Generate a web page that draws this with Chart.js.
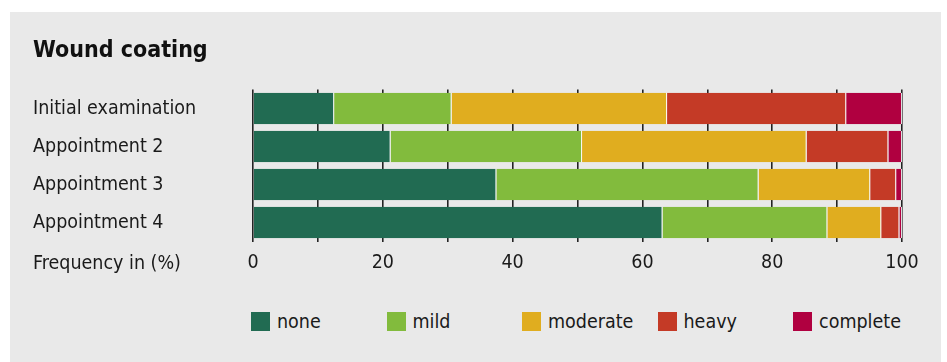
<!DOCTYPE html>
<html>
<head>
<meta charset="utf-8">
<script src="https://cdn.jsdelivr.net/npm/chart.js@4.4.1/dist/chart.umd.min.js"></script>
<style>
  body { margin: 0; background: #fff; font-family: "Liberation Sans Narrow", "DejaVu Sans Condensed", sans-serif; }
  #panel { position: absolute; left: 10px; top: 12px; width: 931px; height: 350px; background: #e9e9e9; }
  #wrap { position: absolute; left: 0; top: 0; width: 931px; height: 290px; }
  #legend { position: absolute; left: 241px; top: 298px; display: flex; }
  .item { width: 135.5px; display: flex; align-items: center; font-size: 19.5px; color: #1a1a1a; }
  .box { width: 19px; height: 19px; margin-right: 7px; }
</style>
</head>
<body>
<div id="panel">
  <div id="wrap"><canvas id="chart"></canvas></div>
  <div id="legend"></div>
</div>
<script>
const categories = ['Initial examination', 'Appointment 2', 'Appointment 3', 'Appointment 4'];
const seriesNames = ['none', 'mild', 'moderate', 'heavy', 'complete'];
const none = [12.5, 21.2, 37.5, 63.1];
const mild = [18.1, 29.5, 40.4, 25.4];
const moderate = [33.2, 34.6, 17.2, 8.3];
const heavy = [27.6, 12.6, 4.0, 2.8];
const complete = [8.6, 2.1, 0.9, 0.4];
const colors = ['#216b52', '#82bb3d', '#e0ad1f', '#c43a26', '#b00040'];
const axisTitle = 'Frequency in (%)';

const FONT = '"Liberation Sans Narrow", "DejaVu Sans Condensed", sans-serif';
const values = [none, mild, moderate, heavy, complete];

// draws "Frequency in (%)" on the tick-label row, left aligned with the category labels
const axisTitlePlugin = {
  id: 'axisTitle',
  afterDraw(chart) {
    const x = chart.scales.x, y = chart.scales.y;
    const c = chart.ctx;
    c.save();
    c.font = '19.5px ' + FONT;
    c.fillStyle = '#1a1a1a';
    c.textAlign = 'left';
    c.textBaseline = 'middle';
    c.fillText(axisTitle, y.left, x.top + 10 + 12);
    c.restore();
  }
};

const chart = new Chart(document.getElementById('chart'), {
  type: 'bar',
  data: {
    labels: categories,
    datasets: seriesNames.map((name, i) => ({
      label: name,
      data: values[i],
      backgroundColor: colors[i],
      borderColor: 'rgba(255,255,255,0.85)',
      borderWidth: { left: 0, right: 1, top: 0, bottom: 0 },
      borderSkipped: false,
      categoryPercentage: 1,
      barPercentage: 0.83
    }))
  },
  options: {
    indexAxis: 'y',
    responsive: true,
    maintainAspectRatio: false,
    animation: false,
    layout: { padding: { left: 23, right: 39, top: 0, bottom: 17 } },
    plugins: {
      legend: { display: false },
      tooltip: { enabled: false },
      title: {
        display: true,
        text: 'Wound coating',
        align: 'start',
        color: '#111',
        font: { family: FONT, size: 23, weight: 'bold' },
        padding: { top: 25, bottom: 25 }
      }
    },
    scales: {
      x: {
        stacked: true,
        min: 0,
        max: 100,
        z: 1,
        border: { display: false },
        grid: { color: 'rgba(0,0,0,0.85)', lineWidth: 1.6, drawTicks: false },
        ticks: {
          stepSize: 10,
          padding: 10,
          color: '#1a1a1a',
          font: { family: FONT, size: 19.5 },
          maxRotation: 0,
          autoSkip: false,
          callback: v => (v % 20 === 0 ? v : '')
        }
      },
      y: {
        stacked: true,
        border: { display: false },
        grid: { display: false },
        ticks: {
          crossAlign: 'far',
          color: '#1a1a1a',
          font: { family: FONT, size: 19.5 }
        },
        afterFit(scale) { scale.width = 220; }
      }
    }
  },
  plugins: [axisTitlePlugin]
});

const legend = document.getElementById('legend');
chart.data.datasets.forEach(ds => {
  const item = document.createElement('div');
  item.className = 'item';
  const box = document.createElement('span');
  box.className = 'box';
  box.style.background = ds.backgroundColor;
  const txt = document.createElement('span');
  txt.textContent = ds.label;
  item.appendChild(box);
  item.appendChild(txt);
  legend.appendChild(item);
});
</script>
</body>
</html>
